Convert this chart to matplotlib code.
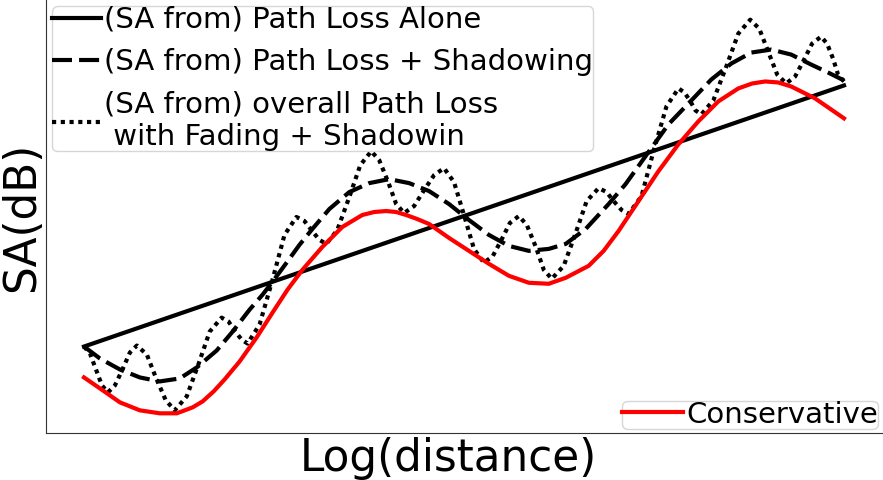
import matplotlib
matplotlib.use('Agg')
import matplotlib.pyplot as plt

# Path loss alone (straight line in log distance)
pl_x = [0.0, 7.62]
pl_y = [8.7, 34.9]

# Path loss + shadowing
shadow_x = [0.00, 0.16, 0.36, 0.56, 0.76, 0.96, 1.13, 1.33, 1.49, 1.66,
            1.79, 1.89, 2.03, 2.16, 2.29, 2.46, 2.66, 2.86, 3.06, 3.26,
            3.46, 3.66, 3.86, 4.06, 4.26, 4.46, 4.66, 4.83, 5.03, 5.26,
            5.43, 5.63, 5.86, 6.09, 6.29, 6.49, 6.69, 6.89, 7.09, 7.29,
            7.46, 7.62]
shadow_y = [8.7, 7.5, 6.4, 5.6, 5.2, 5.5, 6.6, 8.3, 10.2, 12.4,
            13.9, 15.2, 17.1, 18.9, 20.5, 22.5, 24.2, 25.1, 25.5, 25.1,
            24.3, 23.0, 21.4, 19.9, 18.8, 18.3, 18.5, 19.0, 20.5, 23.0,
            25.0, 27.8, 31.0, 33.4, 35.5, 37.1, 38.2, 38.5, 38.0, 37.0,
            36.2, 35.4]

# overall path loss with fading + shadowing
fade_x = [0.00, 0.06, 0.12, 0.18, 0.24, 0.31, 0.39, 0.46, 0.53, 0.63,
          0.72, 0.82, 0.91, 1.03, 1.15, 1.26, 1.38, 1.45, 1.51, 1.58,
          1.64, 1.76, 1.89, 2.01, 2.13, 2.21, 2.28, 2.36, 2.43, 2.54,
          2.66, 2.77, 2.88, 2.96, 3.05, 3.13, 3.21, 3.31, 3.41, 3.51,
          3.61, 3.71, 3.81, 3.91, 4.01, 4.10, 4.19, 4.27, 4.36, 4.44,
          4.53, 4.61, 4.69, 4.81, 4.93, 5.04, 5.16, 5.24, 5.31, 5.39,
          5.46, 5.59, 5.71, 5.84, 5.96, 6.02, 6.08, 6.13, 6.19, 6.31,
          6.44, 6.56, 6.68, 6.77, 6.86, 6.95, 7.04, 7.13, 7.22, 7.30,
          7.39, 7.45, 7.51, 7.56, 7.62]
fade_y = [8.7, 8.0, 6.4, 4.8, 4.1, 4.8, 6.5, 8.1, 8.8, 7.9,
          5.6, 3.3, 2.3, 3.7, 7.0, 10.2, 11.6, 11.2, 10.3, 9.4,
          9.0, 10.9, 15.4, 19.9, 21.7, 21.3, 20.4, 19.4, 19.0, 20.4,
          23.7, 26.9, 28.3, 27.4, 25.2, 23.0, 22.1, 22.8, 24.4, 25.9,
          26.6, 25.2, 21.9, 18.5, 17.1, 17.8, 19.5, 21.1, 21.8, 20.9,
          18.7, 16.4, 15.5, 16.8, 20.1, 23.3, 24.6, 24.2, 23.3, 22.4,
          22.0, 23.8, 28.3, 32.8, 34.6, 34.2, 33.3, 32.4, 32.0, 33.4,
          36.8, 40.1, 41.5, 40.6, 38.3, 36.0, 35.1, 35.8, 37.5, 39.1,
          39.8, 39.1, 37.6, 36.0, 35.3]

# conservative
cons_x = [0.00, 0.16, 0.36, 0.56, 0.76, 0.93, 1.09, 1.19, 1.30, 1.41,
          1.56, 1.73, 1.89, 2.04, 2.19, 2.39, 2.59, 2.79, 2.91, 3.03,
          3.13, 3.23, 3.34, 3.46, 3.66, 3.86, 4.06, 4.26, 4.46, 4.66,
          4.83, 5.06, 5.21, 5.36, 5.56, 5.76, 5.96, 6.16, 6.36, 6.56,
          6.70, 6.83, 6.96, 7.09, 7.33, 7.62]
cons_y = [5.6, 4.5, 3.1, 2.3, 2.0, 2.0, 2.6, 3.2, 4.2, 5.4,
          7.2, 9.6, 12.1, 14.4, 16.4, 18.7, 20.7, 21.9, 22.2, 22.3,
          22.2, 21.9, 21.5, 21.0, 19.6, 18.3, 17.0, 15.8, 15.1, 15.0,
          15.6, 16.8, 18.3, 20.3, 23.3, 26.3, 29.0, 31.3, 33.3, 34.6,
          35.1, 35.3, 35.2, 34.8, 33.6, 31.6]

fig = plt.figure(figsize=(8.83, 4.80), dpi=100)
ax = fig.add_axes([46/883, 47/480, 836/883, 433/480])

l1, = ax.plot(pl_x, pl_y, color='black', lw=3,
              label='(SA from) Path Loss Alone')
l2, = ax.plot(shadow_x, shadow_y, color='black', lw=3,
              linestyle=(0, (4.8, 1.7)),
              label='(SA from) Path Loss + Shadowing')
l3, = ax.plot(fade_x, fade_y, color='black', lw=3,
              linestyle=(0, (1, 1.1)),
              label='(SA from) overall Path Loss\n with Fading + Shadowin')
l4, = ax.plot(cons_x, cons_y, color='red', lw=3, label='Conservative')

leg1 = ax.legend(handles=[l1, l2, l3], loc='upper left', fontsize=21,
                 handlelength=1.7, handletextpad=0.1, labelspacing=0.5,
                 borderaxespad=0.2, borderpad=0.0)
ax.add_artist(leg1)
ax.legend(handles=[l4], loc='lower right', fontsize=21,
          handlelength=2.1, handletextpad=0.1,
          borderaxespad=0.15, borderpad=0.0)

ax.set_xlabel('Log(distance)', fontsize=31.5)
ax.xaxis.set_label_coords(0.481, -0.01)
ax.set_ylabel('SA(dB)', fontsize=31.5, labelpad=2)
ax.set_xticks([])
ax.set_yticks([])
ax.spines['top'].set_visible(False)
ax.spines['right'].set_visible(False)
ax.spines['left'].set_color('#333333')
ax.spines['bottom'].set_color('#333333')

fig.savefig('out.png', dpi=100)
